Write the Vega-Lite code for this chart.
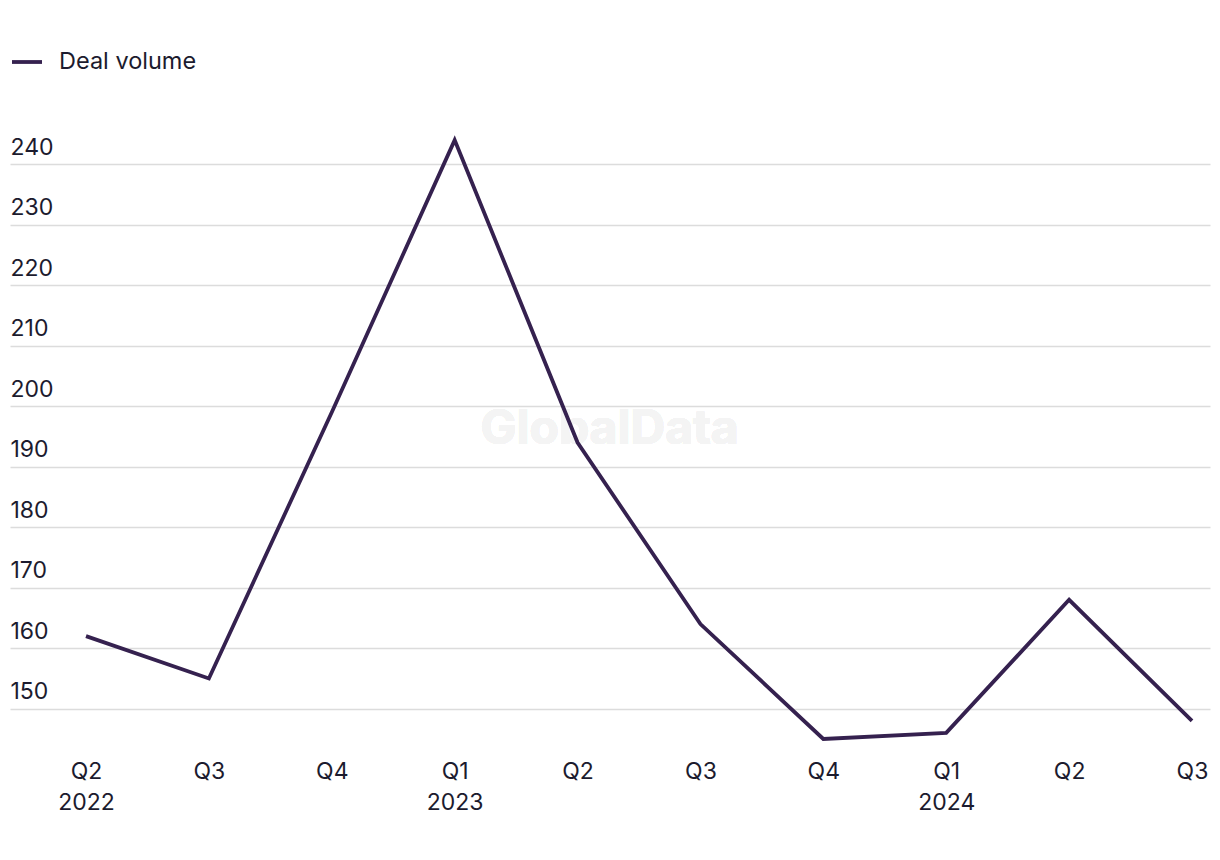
{
  "$schema": "https://vega.github.io/schema/vega-lite/v6.json",
  "width": 1200,
  "height": 617,
  "autosize": {"type": "none"},
  "padding": {"left": 10, "top": 128, "right": 10, "bottom": 115},
  "background": "white",
  "config": {
    "view": {"stroke": null},
    "font": "Inter"
  },
  "data": {
    "values": [
      {"quarter": "Q2 2022", "deals": 162, "series": "Deal volume"},
      {"quarter": "Q3 2022", "deals": 155, "series": "Deal volume"},
      {"quarter": "Q4 2022", "deals": 199, "series": "Deal volume"},
      {"quarter": "Q1 2023", "deals": 244, "series": "Deal volume"},
      {"quarter": "Q2 2023", "deals": 194, "series": "Deal volume"},
      {"quarter": "Q3 2023", "deals": 164, "series": "Deal volume"},
      {"quarter": "Q4 2023", "deals": 145, "series": "Deal volume"},
      {"quarter": "Q1 2024", "deals": 146, "series": "Deal volume"},
      {"quarter": "Q2 2024", "deals": 168, "series": "Deal volume"},
      {"quarter": "Q3 2024", "deals": 148, "series": "Deal volume"}
    ]
  },
  "encoding": {
    "x": {
      "field": "quarter",
      "type": "ordinal",
      "sort": null,
      "scale": {
        "type": "point",
        "domain": ["Q2 2022", "Q3 2022", "Q4 2022", "Q1 2023", "Q2 2023", "Q3 2023", "Q4 2023", "Q1 2024", "Q2 2024", "Q3 2024"],
        "padding": 0.3825,
        "align": 0.8085
      },
      "axis": {
        "title": null,
        "domain": false,
        "ticks": false,
        "grid": false,
        "labelAngle": 0,
        "labelFontSize": 23,
        "labelColor": "#1c1b2e",
        "labelPadding": 15,
        "labelLineHeight": 31,
        "labelBaseline": "top",
        "labelExpr": "(indexof(datum.value, 'Q1') == 0 || datum.value == 'Q2 2022') ? split(datum.value, ' ') : split(datum.value, ' ')[0]"
      }
    },
    "y": {
      "field": "deals",
      "type": "quantitative",
      "scale": {"domain": [144, 246], "nice": false, "zero": false},
      "axis": {
        "title": null,
        "domain": false,
        "ticks": false,
        "tickSize": 0,
        "values": [150, 160, 170, 180, 190, 200, 210, 220, 230, 240],
        "grid": true,
        "gridColor": "#dcdcdc",
        "gridWidth": 1.5,
        "labelAlign": "left",
        "labelBaseline": "alphabetic",
        "labelPadding": 0,
        "labelOffset": -10,
        "labelFontSize": 23,
        "labelColor": "#1c1b2e"
      }
    }
  },
  "layer": [
    {
      "mark": {"type": "text", "fontSize": 48, "fontWeight": "bold", "color": "#f4f4f4"},
      "encoding": {
        "x": {"datum": "Q2 2023"},
        "y": {"datum": 196},
        "text": {"value": "GlobalData"},
        "xOffset": {"value": 32}
      }
    },
    {
      "mark": {"type": "line", "strokeWidth": 3.8, "strokeJoin": "miter"},
      "encoding": {
        "color": {
          "field": "series",
          "type": "nominal",
          "scale": {"range": ["#35214f"]},
          "legend": {
            "title": null,
            "orient": "none",
            "legendX": 0,
            "legendY": -83,
            "symbolType": "stroke",
            "symbolSize": 900,
            "symbolStrokeWidth": 3.8,
            "labelFontSize": 23.5,
            "labelColor": "#1c1b2e",
            "labelOffset": 15
          }
        }
      }
    }
  ]
}
